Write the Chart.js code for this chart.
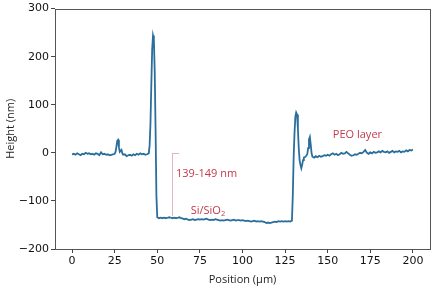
<!DOCTYPE html>
<html>
<head>
<meta charset="utf-8">
<script src="https://cdn.jsdelivr.net/npm/chart.js@4.4.1/dist/chart.umd.min.js"></script>
<style>
  html, body { margin: 0; padding: 0; background: #ffffff; }
  #wrap { width: 435px; height: 286px; position: relative; }
</style>
</head>
<body>
<div id="wrap"><canvas id="c"></canvas></div>
<script>
// ---- Data ----
const positions = [
  0,1,2,3,4,5,6,7,8,9,10,11,12,13,14,15,16,17,18,19,20,21,22,23,24,25,25.5,26,26.5,27,27.5,28,28.5,29,29.5,
  30,31,32,33,34,35,36,37,38,39,40,41,42,43,44,45,45.5,46,46.5,47,47.5,48,48.5,49,49.5,
  50,51,52,53,54,55,56,57,58,59,60,61,62,63,64,65,66,67,68,69,70,71,72,73,74,75,76,77,78,79,
  80,81,82,83,84,85,86,87,88,89,90,91,92,93,94,95,96,97,98,99,100,101,102,103,104,105,106,107,108,109,
  110,111,112,113,114,115,116,117,118,119,120,121,122,123,124,125,126,127,128,129,129.5,
  130,130.5,131,131.5,132,132.5,133,133.5,134,134.5,135,135.5,136,137,138,138.5,139,139.5,140,140.5,
  141,142,143,144,145,146,147,148,149,150,151,152,153,154,155,156,157,158,159,160,
  161,162,163,164,165,166,167,168,169,170,171,172,173,174,175,176,177,178,179,180,
  181,182,183,184,185,186,187,188,189,190,191,192,193,194,195,196,197,198,199,200
];
const heights = [
  -3,-2,-4,-1,-3,-5,-2,-3,0,-2,-1,-3,-2,-4,-1,-2,-5,1,-3,-2,-4,-3,-5,-4,-3,-2,2,12,25,27,12,2,4,6,-1,
  -4,-3,-7,-5,-4,-6,-3,-5,-2,-4,-1,-3,-2,-4,-3,-1,15,60,140,215,244,236,170,50,-90,
  -134,-136,-135,-136,-135,-136,-135,-134,-135,-136,-135,-136,-135,-134,-136,-137,-138,-137,-139,-140,-139,-138,-140,-139,-138,-139,-138,-139,-138,-137,
  -139,-140,-139,-140,-138,-139,-140,-141,-140,-141,-140,-139,-140,-141,-140,-139,-141,-140,-140,-141,-140,-141,-142,-141,-142,-143,-142,-141,-143,-142,
  -143,-142,-143,-144,-146,-145,-146,-145,-144,-143,-144,-142,-143,-142,-143,-142,-143,-142,-143,-141,-90,
  -10,40,75,84,80,50,10,-15,-25,-32,-25,-15,-10,-8,-3,10,28,33,18,0,
  -8,-10,-7,-9,-6,-8,-7,-5,-6,-4,-6,-3,-1,-4,-2,-5,-3,0,-2,-1,
  2,-1,-4,-6,-5,-3,-4,-2,0,-1,2,6,0,-2,1,-1,2,0,1,3,
  1,4,2,1,3,0,2,4,1,3,2,4,1,3,2,5,3,6,5,7
];
const xTicks = [0, 25, 50, 75, 100, 125, 150, 175, 200];
const yTicks = [-200, -100, 0, 100, 200, 300];
const xTitle = 'Position (\u03bcm)';
const yTitle = 'Height (nm)';
const notes = [
  { text: '139-149 nm', x: 61, y: -44 },
  { text: 'PEO layer', x: 153, y: 37 }
];
const siLabel = { base: 'Si/SiO', sub: '2', x: 69.6, y: -121 };
const bracket = { x: 58.4, xEnd: 62.9, top: 0, bottom: -132 };

const points = positions.map((p, i) => ({ x: p, y: heights[i] }));
const tickFont = { family: 'DejaVu Sans', size: 11 };
const noteColor = '#c23a4c';

const framePlugin = {
  id: 'frameAndNotes',
  afterDatasetsDraw(chart) {
    const { ctx, chartArea: a, scales } = chart;
    const xs = scales.x, ys = scales.y;
    ctx.save();
    ctx.strokeStyle = '#e6b4bc';
    ctx.lineWidth = 1;
    const bx = Math.round(xs.getPixelForValue(bracket.x)) + 0.5;
    ctx.beginPath();
    ctx.moveTo(bx, ys.getPixelForValue(bracket.top));
    ctx.lineTo(bx, ys.getPixelForValue(bracket.bottom));
    ctx.moveTo(bx, Math.round(ys.getPixelForValue(bracket.top)) + 0.5);
    ctx.lineTo(xs.getPixelForValue(bracket.xEnd), Math.round(ys.getPixelForValue(bracket.top)) + 0.5);
    ctx.stroke();
    ctx.fillStyle = noteColor;
    ctx.textBaseline = 'middle';
    ctx.textAlign = 'left';
    ctx.font = '11px "Open Sans"';
    notes.forEach(n => {
      ctx.fillText(n.text, xs.getPixelForValue(n.x), ys.getPixelForValue(n.y));
    });
    const sx = xs.getPixelForValue(siLabel.x), sy = ys.getPixelForValue(siLabel.y);
    ctx.fillText(siLabel.base, sx, sy);
    const w = ctx.measureText(siLabel.base).width;
    ctx.font = '7.5px "Open Sans"';
    ctx.fillText(siLabel.sub, sx + w, sy + 3);
    ctx.strokeStyle = '#555555';
    ctx.lineWidth = 1;
    ctx.strokeRect(Math.round(a.left) + 0.5, Math.round(a.top) + 0.5,
                   Math.round(a.right - a.left), Math.round(a.bottom - a.top));
    ctx.restore();
  }
};

new Chart(document.getElementById('c'), {
  type: 'line',
  data: {
    datasets: [{
      data: points,
      borderColor: '#2a6f9c',
      borderWidth: 1.8,
      pointRadius: 0,
      tension: 0,
      fill: false
    }]
  },
  options: {
    responsive: true,
    maintainAspectRatio: false,
    animation: false,
    layout: { padding: { left: 0, right: 5, top: 5, bottom: 0 } },
    plugins: { legend: { display: false }, tooltip: { enabled: false } },
    scales: {
      x: {
        type: 'linear',
        min: -10, max: 210,
        afterBuildTicks(s) { s.ticks = xTicks.map(v => ({ value: v })); },
        afterFit(s) { s.height = 37; },
        ticks: { font: tickFont, color: '#111', padding: 2, maxRotation: 0 },
        grid: { drawOnChartArea: false, drawTicks: true, tickLength: 4, color: '#444' },
        border: { display: false },
        title: { display: true, text: xTitle, font: { family: 'Open Sans', size: 11 }, color: '#222', padding: { top: 0, bottom: 0 } }
      },
      y: {
        min: -200, max: 300,
        afterBuildTicks(s) { s.ticks = yTicks.map(v => ({ value: v })); },
        afterFit(s) { s.width = 55; },
        ticks: {
          font: tickFont, color: '#111', padding: 2,
          callback: v => (v < 0 ? '\u2212' + Math.abs(v) : String(v))
        },
        grid: { drawOnChartArea: false, drawTicks: true, tickLength: 4, color: '#444' },
        border: { display: false },
        title: { display: true, text: yTitle, font: { family: 'Open Sans', size: 11 }, color: '#222', padding: { top: 4, bottom: 0 } }
      }
    }
  },
  plugins: [framePlugin]
});
</script>
</body>
</html>
